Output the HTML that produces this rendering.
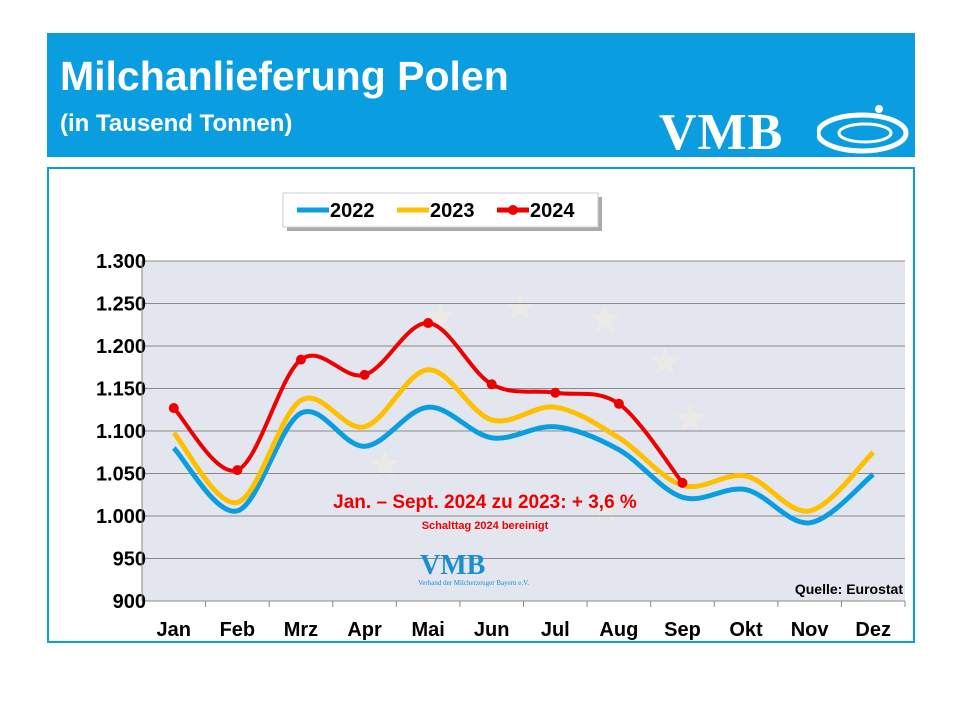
<!DOCTYPE html>
<html><head><meta charset="utf-8"><style>
body{margin:0;width:960px;height:720px;background:#fff;font-family:"Liberation Sans",sans-serif;position:relative;overflow:hidden}
#hdr{position:absolute;left:47px;top:33px;width:868px;height:124px;background:#0a9ee0}
#t1{position:absolute;left:13px;top:20px;color:#fff;font-size:41px;font-weight:bold}
#t2{position:absolute;left:13px;top:77px;color:#fff;font-size:24px;font-weight:bold}
#logo{position:absolute;left:612px;top:70px;color:#fff;font-family:"Liberation Serif",serif;font-size:52px;font-weight:bold;letter-spacing:1px}
#frame{position:absolute;left:47px;top:167px;width:864px;height:472px;border:2px solid #0a9ee0}
</style></head><body>
<div id="hdr">
<div id="t1">Milchanlieferung Polen</div>
<div id="t2">(in Tausend Tonnen)</div>
<div id="logo">VMB</div>
<svg style="position:absolute;left:770px;top:68px" width="95" height="56"><ellipse cx="45" cy="32" rx="44" ry="18" fill="none" stroke="#fff" stroke-width="5"/><ellipse cx="48" cy="32" rx="26" ry="9" fill="none" stroke="#fff" stroke-width="3"/><circle cx="62" cy="8" r="4" fill="#fff"/></svg>
</div>
<div id="frame"></div>
<svg id="chart" width="960" height="720" style="position:absolute;left:0;top:0"></svg>
<script>
const months=["Jan","Feb","Mrz","Apr","Mai","Jun","Jul","Aug","Sep","Okt","Nov","Dez"];
const v2022=[1080,1006,1121,1082,1128,1092,1105,1078,1022,1031,992,1049];
const v2023=[1098,1016,1136,1105,1172,1113,1128,1092,1036,1047,1006,1075];
const v2024=[1127,1054,1184,1166,1227,1155,1145,1132,1039];
const yTicks=[900,950,1000,1050,1100,1150,1200,1250,1300];
const yLabels=["900","950","1.000","1.050","1.100","1.150","1.200","1.250","1.300"];
const NS="http://www.w3.org/2000/svg";
const svg=document.getElementById('chart');
const X0=142,X1=905,Y0=601,Y1=261;
const bw=(X1-X0)/months.length;
const x=i=>X0+bw*(i+0.5);
const y=v=>Y0-(v-900)/(1300-900)*(Y0-Y1);
function mk(t,a,p){const e=document.createElementNS(NS,t);for(const k in a)e.setAttribute(k,a[k]);(p||svg).appendChild(e);return e;}
let bg=mk('rect',{x:X0,y:Y1,width:X1-X0,height:Y0-Y1,fill:'#e4e6ef'});


const starPos=[[520,320],[605,332],[665,375],[690,432],[385,478],[440,330],[605,522]];
starPos.forEach(s=>{const st=mk('text',{x:s[0],y:s[1],'font-size':40,fill:'#ebeae6','text-anchor':'middle'});st.textContent='★';

});
yTicks.forEach((t,i)=>{
 const g=mk('line',{x1:X0,x2:X1,y1:y(t),y2:y(t),stroke:'#8a8a8a','stroke-width':1});
 
 
 const l=mk('text',{x:146,y:y(t)+7,'font-size':20,'font-weight':'bold','text-anchor':'end',fill:'#000'});
 l.textContent=yLabels[i];
 
 
});
mk('line',{x1:X0,x2:X0,y1:Y1,y2:Y0,stroke:'#8a8a8a'});
months.forEach((m,i)=>{
 const tk=mk('line',{x1:X0+bw*(i+1),x2:X0+bw*(i+1),y1:Y0,y2:Y0+6,stroke:'#8a8a8a'});
 
 
 const l=mk('text',{x:x(i),y:636,'font-size':20,'font-weight':'bold','text-anchor':'middle'});
 l.textContent=m;
 
 
});
function path(vals){
 const p=vals.map((v,i)=>[x(i),y(v)]);let d='M'+p[0][0]+','+p[0][1];
 for(let i=0;i<p.length-1;i++){const a=p[i-1]||p[i],b=p[i],c=p[i+1],e=p[i+2]||c;
  const c1=[b[0]+(c[0]-a[0])/6,b[1]+(c[1]-a[1])/6],c2=[c[0]-(e[0]-b[0])/6,c[1]-(e[1]-b[1])/6];
  d+=` C${c1[0]},${c1[1]} ${c2[0]},${c2[1]} ${c[0]},${c[1]}`;}
 return d;}
const s22=mk('path',{d:path(v2022),fill:'none',stroke:'#0a9ee0','stroke-width':5});


const s23=mk('path',{d:path(v2023),fill:'none',stroke:'#ffc000','stroke-width':5});


const s24=mk('path',{d:path(v2024),fill:'none',stroke:'#ee0000','stroke-width':4});


v2024.forEach((v,i)=>{const c=mk('circle',{cx:x(i),cy:y(v),r:5,fill:'#ee0000'});
 
 });
const lg=mk('g',{});


mk('rect',{x:287,y:197,width:315,height:34,fill:'#aaa'},lg);
mk('rect',{x:283,y:193,width:315,height:34,fill:'#fff',stroke:'#ccc'},lg);
[['2022','#0a9ee0',0],['2023','#ffc000',0],['2024','#ee0000',1]].forEach((e,i)=>{
 const ox=297+i*100;
 mk('line',{x1:ox,x2:ox+32,y1:210,y2:210,stroke:e[1],'stroke-width':5},lg);
 if(e[2])mk('circle',{cx:ox+16,cy:210,r:5,fill:e[1]},lg);
 const t=mk('text',{x:ox+33,y:217,'font-size':20,'font-weight':'bold'},lg);t.textContent=e[0];
 
 
});
const a=mk('text',{x:485,y:508,'font-size':19,'font-weight':'bold',fill:'#e00','text-anchor':'middle'});
a.textContent='Jan. – Sept. 2024 zu 2023: + 3,6 %';


const b=mk('text',{x:485,y:529,'font-size':11,'font-weight':'bold',fill:'#e00','text-anchor':'middle'});
b.textContent='Schalttag 2024 bereinigt';


const vm=mk('text',{x:420,y:574,'font-size':28,'font-weight':'bold','font-family':'Liberation Serif,serif',fill:'#1a8fd0'});
vm.textContent='VMB';


const vs=mk('text',{x:418,y:585,'font-size':7,'font-family':'Liberation Serif,serif',fill:'#1a8fd0'});
vs.textContent='Verband der Milcherzeuger Bayern e.V.';


const q=mk('text',{x:903,y:594,'font-size':14,'font-weight':'bold','text-anchor':'end'});
q.textContent='Quelle: Eurostat';


</script>
</body></html>
